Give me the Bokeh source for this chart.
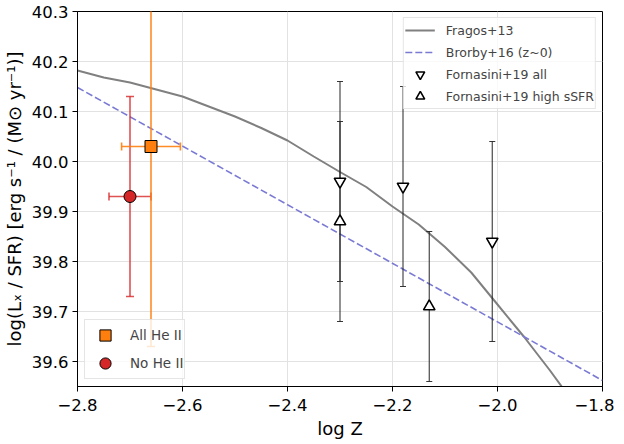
import math
from bokeh.plotting import figure
from bokeh.models import Range1d, Legend, LegendItem, FixedTicker
from bokeh.embed import file_html
from bokeh.resources import INLINE

# ---- data ----
fragos_logz = [-2.80, -2.75, -2.70, -2.65, -2.60, -2.55, -2.50, -2.45, -2.40, -2.35, -2.30,
               -2.25, -2.20, -2.15, -2.10, -2.05, -2.00, -1.95, -1.90, -1.85]
fragos_val = [40.182, 40.168, 40.158, 40.144, 40.130, 40.110, 40.090, 40.067, 40.042, 40.010, 39.979,
              39.949, 39.910, 39.874, 39.829, 39.778, 39.714, 39.650, 39.582, 39.510]

brorby_logz = [-2.8, -1.8]
brorby_val = [40.148, 39.562]

forn_all_x = [-2.30, -2.18, -2.01]
forn_all_y = [39.96, 39.95, 39.84]
forn_all_err = [0.20, 0.20, 0.20]

forn_hi_x = [-2.30, -2.13]
forn_hi_y = [39.88, 39.71]
forn_hi_err = [0.20, 0.15]

allheii_x = [-2.66]
allheii_y = [40.03]
allheii_xerr = [0.056]
allheii_yerr = [0.40]

noheii_x = [-2.70]
noheii_y = [39.93]
noheii_xerr = [0.04]
noheii_yerr = [0.20]

x_ticks = [-2.8, -2.6, -2.4, -2.2, -2.0, -1.8]
x_tick_labels = ["\u22122.8", "\u22122.6", "\u22122.4", "\u22122.2", "\u22122.0", "\u22121.8"]
y_ticks = [39.6, 39.7, 39.8, 39.9, 40.0, 40.1, 40.2, 40.3]
y_tick_labels = ["39.6", "39.7", "39.8", "39.9", "40.0", "40.1", "40.2", "40.3"]

FONT = "DejaVu Sans"
ORANGE = "#ff7f0e"
RED = "#d62728"

p = figure(frame_width=525, frame_height=375,
           x_range=Range1d(-2.8, -1.8), y_range=Range1d(39.55, 40.3),
           output_backend="svg", toolbar_location=None,
           min_border_left=71, min_border_right=12, min_border_top=11, min_border_bottom=42)

p.background_fill_color = "white"
p.border_fill_color = "white"
p.outline_line_color = "black"
p.outline_line_width = 1

for ax in (p.xaxis[0], p.yaxis[0]):
    ax.major_label_text_font = FONT
    ax.major_label_text_font_size = "16.5px"
    ax.major_label_text_color = "black"
    ax.axis_label_text_font = FONT
    ax.axis_label_text_font_size = "18px"
    ax.axis_label_text_font_style = "normal"
    ax.axis_label_text_color = "black"
    ax.axis_line_color = "black"
    ax.major_tick_line_color = "black"
    ax.major_tick_out = 5
    ax.major_tick_in = 0
    ax.minor_tick_line_color = None

p.xaxis.ticker = FixedTicker(ticks=x_ticks)
p.xaxis.major_label_overrides = dict(zip(x_ticks, x_tick_labels))
p.yaxis.ticker = FixedTicker(ticks=y_ticks)
p.yaxis.major_label_overrides = dict(zip(y_ticks, y_tick_labels))
p.xaxis.axis_label = "log Z"
p.yaxis.axis_label = "log(L\u2093 / SFR) [erg s\u207b\u00b9 / (M\u2299 yr\u207b\u00b9)]"
p.xaxis.major_label_standoff = 7
p.yaxis.major_label_standoff = 4
p.xaxis.axis_label_standoff = 4
p.yaxis.axis_label_standoff = 4

p.grid.grid_line_color = "#e2e2e2"
p.grid.grid_line_width = 1

# ---- model lines ----
r_fragos = p.line(fragos_logz, fragos_val, line_color="#808080", line_width=2)
r_brorby = p.line(brorby_logz, brorby_val, line_color="#7a7ad4", line_width=1.6, line_dash="7 3")

# ---- helper for error bars ----
def yerrbars(xs, ys, errs, color, alpha, width, cap):
    lo = [y - e for y, e in zip(ys, errs)]
    hi = [y + e for y, e in zip(ys, errs)]
    p.segment(x0=xs, y0=lo, x1=xs, y1=hi, line_color=color, line_alpha=alpha, line_width=width)
    p.scatter(x=xs + xs, y=lo + hi, marker="dash", size=cap, line_color=color,
              line_alpha=alpha, line_width=width)

def xerrbars(xs, ys, errs, color, alpha, width, cap):
    lo = [x - e for x, e in zip(xs, errs)]
    hi = [x + e for x, e in zip(xs, errs)]
    p.segment(x0=lo, y0=ys, x1=hi, y1=ys, line_color=color, line_alpha=alpha, line_width=width)
    p.scatter(x=lo + hi, y=ys + ys, marker="dash", angle=math.pi / 2, size=cap,
              line_color=color, line_alpha=alpha, line_width=width)

# Fornasini error bars
yerrbars(forn_all_x, forn_all_y, forn_all_err, "#222222", 0.9, 1.1, 6)
yerrbars(forn_hi_x, forn_hi_y, forn_hi_err, "#222222", 0.9, 1.1, 6)

r_fall = p.scatter(forn_all_x, forn_all_y, marker="inverted_triangle", size=11.5,
                   fill_color="white", line_color="black", line_width=1.6)
r_fhi = p.scatter(forn_hi_x, forn_hi_y, marker="triangle", size=11.5,
                  fill_color="white", line_color="black", line_width=1.6)

# He II samples
yerrbars(noheii_x, noheii_y, noheii_yerr, RED, 0.8, 1.6, 8)
xerrbars(noheii_x, noheii_y, noheii_xerr, RED, 0.8, 1.6, 8)
yerrbars(allheii_x, allheii_y, allheii_yerr, ORANGE, 0.9, 1.6, 8)
xerrbars(allheii_x, allheii_y, allheii_xerr, ORANGE, 0.9, 1.6, 8)

r_all = p.scatter(allheii_x, allheii_y, marker="square", size=12,
                  fill_color=ORANGE, line_color="black", line_width=1)
r_no = p.scatter(noheii_x, noheii_y, marker="circle", size=12,
                 fill_color=RED, line_color="black", line_width=1)

# ---- legends ----
leg1 = Legend(items=[LegendItem(label="Fragos+13", renderers=[r_fragos]),
                     LegendItem(label="Brorby+16 (z~0)", renderers=[r_brorby]),
                     LegendItem(label="Fornasini+19 all", renderers=[r_fall]),
                     LegendItem(label="Fornasini+19 high sSFR", renderers=[r_fhi])],
              location="top_right", margin=6, padding=1, spacing=-3,
              glyph_width=30, glyph_height=22, label_height=22, label_standoff=11,
              label_text_font=FONT, label_text_font_size="12.5px",
              border_line_color="#cccccc", border_line_width=1,
              background_fill_color="white", background_fill_alpha=0.8)
leg2 = Legend(items=[LegendItem(label="All He II", renderers=[r_all]),
                     LegendItem(label="No He II", renderers=[r_no])],
              location="bottom_left", margin=7, padding=1, spacing=-8,
              glyph_width=38, glyph_height=28, label_height=28, label_standoff=6,
              label_text_font=FONT, label_text_font_size="13.5px",
              border_line_color="#cccccc", border_line_width=1,
              background_fill_color="white", background_fill_alpha=0.8)
p.add_layout(leg1)
p.add_layout(leg2)

open("out.html", "w").write(file_html(p, INLINE))
